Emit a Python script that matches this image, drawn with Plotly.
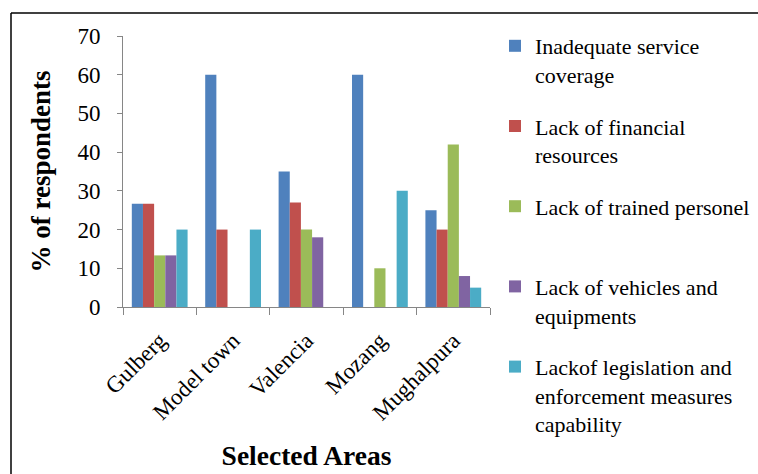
import plotly.graph_objects as go

areas = ["Gulberg", "Model town", "Valencia", "Mozang", "Mughalpura"]

series_names = [
    "Inadequate service<br>coverage",
    "Lack of financial<br>resources",
    "Lack of trained personel<br> ",
    "Lack of vehicles and<br>equipments",
    "Lackof legislation and<br>enforcement measures<br>capability",
]
inadequate_coverage = [26.67, 60, 35, 60, 25]
financial_resources = [26.67, 20, 27, 0, 20]
trained_personnel = [13.33, 0, 20, 10, 42]
vehicles_equipment = [13.33, 0, 18, 0, 8]
legislation_enforcement = [20, 20, 0, 30, 5]

colors = ["#4F81BD", "#C0504D", "#9BBB59", "#8064A2", "#4BACC6"]
values = [inadequate_coverage, financial_resources, trained_personnel,
          vehicles_equipment, legislation_enforcement]

serif = "Liberation Serif"

fig = go.Figure()
for i, (name, vals, col) in enumerate(zip(series_names, values, colors)):
    fig.add_trace(go.Bar(
        x=areas, y=vals, name=name, legendgroup=f"g{i}",
        marker=dict(color=col, line=dict(width=0)),
    ))

W, H = 758, 474
L, R, T, B = 123, 268, 36, 167
pw, ph = W - L - R, H - T - B

def px_x(p):
    return (p - L) / pw

def px_y(p):
    return (H - B - p) / ph

fig.update_layout(
    width=W, height=H,
    margin=dict(l=L, r=R, t=T, b=B, pad=0, autoexpand=False),
    paper_bgcolor="white", plot_bgcolor="white",
    barmode="group", bargap=0.24, bargroupgap=0,
    font=dict(family=serif, color="black"),
    showlegend=True,
    legend=dict(
        x=px_x(495), y=px_y(25), xanchor="left", yanchor="top",
        font=dict(size=22, family=serif, color="black"),
        valign="top", tracegroupgap=20, itemsizing="constant",
        bgcolor="rgba(0,0,0,0)", maxheight=470,
    ),
    xaxis=dict(
        type="category", tickangle=-45, tickson="boundaries",
        ticks="outside", ticklen=7, tickcolor="#868686",
        showline=True, linecolor="#868686", linewidth=1,
        showgrid=False, zeroline=False,
        tickfont=dict(size=23, family=serif, color="black"),
        ticklabelstandoff=10,
        title=dict(text="<b>Selected Areas</b>", standoff=21,
                   font=dict(size=27.5, family=serif, color="black")),
    ),
    yaxis=dict(
        range=[0, 70], dtick=10, ticks="outside", ticklen=5,
        tickcolor="#868686", showline=True, linecolor="#868686",
        linewidth=1, showgrid=False, zeroline=False,
        tickfont=dict(size=23, family=serif, color="black"),
        ticklabelstandoff=12,
        title=dict(text="<b>% of respondents</b>", standoff=18,
                   font=dict(size=27, family=serif, color="black")),
    ),
    shapes=[
        dict(type="line", xref="paper", yref="paper",
             x0=px_x(11), x1=px_x(780), y0=px_y(13), y1=px_y(13),
             line=dict(color="black", width=1.5)),
        dict(type="line", xref="paper", yref="paper",
             x0=px_x(11), x1=px_x(11), y0=px_y(13), y1=px_y(500),
             line=dict(color="black", width=1.5)),
    ],
)

fig.write_html("out.html")
